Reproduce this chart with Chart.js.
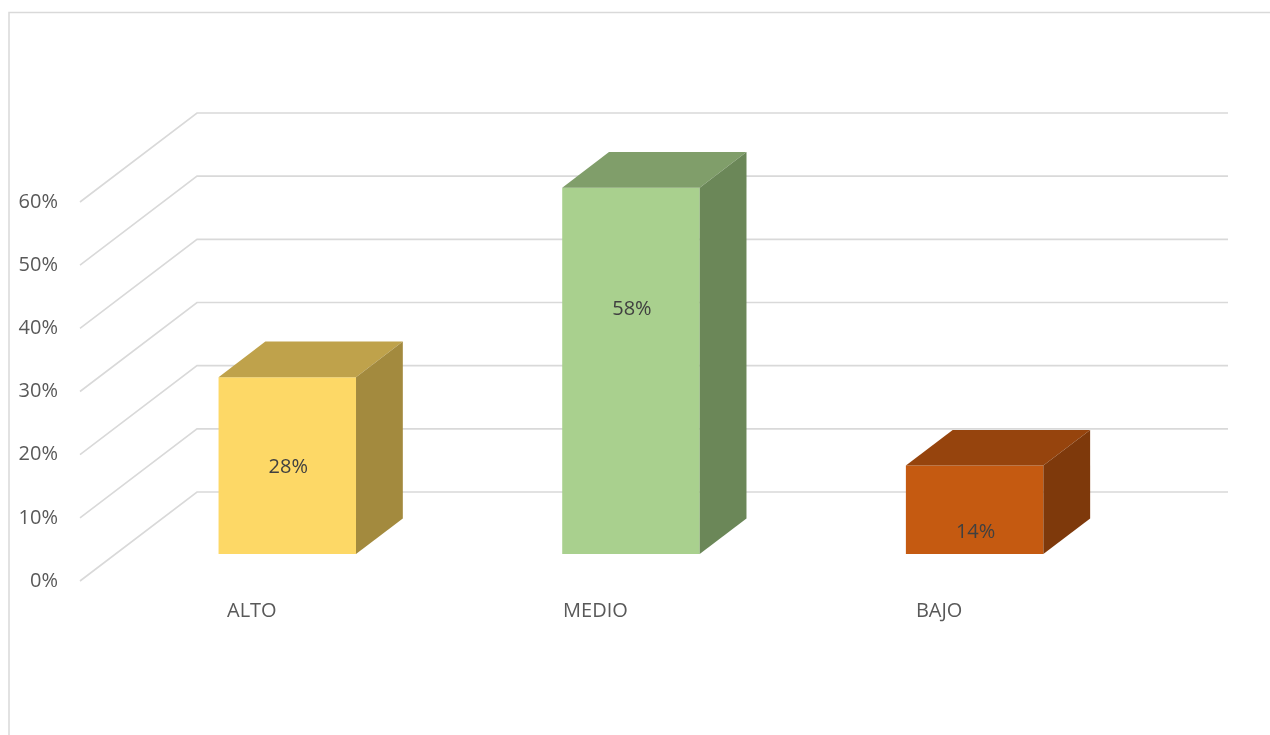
<!DOCTYPE html>
<html>
<head>
<meta charset="utf-8">
<script src="https://cdn.jsdelivr.net/npm/chart.js@4/dist/chart.umd.min.js"></script>
<style>
  html, body { margin: 0; padding: 0; background: #ffffff; }
  #wrap { width: 1270px; height: 735px; position: relative; }
</style>
</head>
<body>
<div id="wrap"><canvas id="c" width="1270" height="735"></canvas></div>
<script>
// ---- data ----
const categories = ['ALTO', 'MEDIO', 'BAJO'];
const values = [0.28, 0.58, 0.14];
const dataLabels = ['28%', '58%', '14%'];
const tickLabels = ['0%', '10%', '20%', '30%', '40%', '50%', '60%'];

// ---- styles ----
const frontColors = ['#FDD866', '#A9D08E', '#C55A11'];
const topColors   = ['#BFA24B', '#809E6A', '#96440D'];
const sideColors  = ['#A38A3E', '#6B8758', '#7E390B'];
const labelShift  = [2, -62, 22];   // vertical nudge of value labels (px)
const FONT = "'Open Sans', 'Liberation Sans', sans-serif";

// 3D projection (oblique)
const DEPTH_X = 117, DEPTH_Y = 89;
const BAR_FRONT = 0.303, BAR_DEPTH = 0.4;

const plugin3d = {
  id: 'plugin3d',
  beforeDraw(chart) {
    const ctx = chart.ctx;
    ctx.save();
    ctx.strokeStyle = '#d9d9d9';
    ctx.lineWidth = 1.5;
    ctx.beginPath();
    ctx.moveTo(9, 735);
    ctx.lineTo(9, 12.5);
    ctx.lineTo(1270, 12.5);
    ctx.stroke();
    ctx.restore();
  },
  beforeDatasetsDraw(chart) {
    const ctx = chart.ctx;
    const ys = chart.scales.y, area = chart.chartArea;
    ctx.save();
    ctx.strokeStyle = '#d9d9d9';
    ctx.lineWidth = 1.6;
    ys.ticks.forEach(t => {
      const y = ys.getPixelForValue(t.value);
      ctx.beginPath();
      ctx.moveTo(area.left, y);
      ctx.lineTo(area.left + DEPTH_X, y - DEPTH_Y);
      ctx.lineTo(area.right + DEPTH_X, y - DEPTH_Y);
      ctx.stroke();
    });
    ctx.restore();
  },
  beforeDatasetDraw(chart) {
    chart.ctx.save();
    chart.ctx.translate(DEPTH_X * BAR_FRONT, -DEPTH_Y * BAR_FRONT);
  },
  afterDatasetDraw(chart, args) {
    const ctx = chart.ctx;
    ctx.restore();
    const meta = chart.getDatasetMeta(args.index);
    const fx = DEPTH_X * BAR_FRONT, fy = DEPTH_Y * BAR_FRONT;
    const dx = DEPTH_X * BAR_DEPTH, dy = DEPTH_Y * BAR_DEPTH;
    meta.data.forEach((bar, i) => {
      const p = bar.getProps(['x', 'y', 'base', 'width'], true);
      const l = p.x - p.width / 2 + fx, r = p.x + p.width / 2 + fx;
      const t = p.y - fy, b = p.base - fy;
      // top face
      ctx.fillStyle = topColors[i];
      ctx.beginPath();
      ctx.moveTo(l, t); ctx.lineTo(l + dx, t - dy);
      ctx.lineTo(r + dx, t - dy); ctx.lineTo(r, t);
      ctx.closePath(); ctx.fill();
      // side face
      ctx.fillStyle = sideColors[i];
      ctx.beginPath();
      ctx.moveTo(r, t); ctx.lineTo(r + dx, t - dy);
      ctx.lineTo(r + dx, b - dy); ctx.lineTo(r, b);
      ctx.closePath(); ctx.fill();
      // value label
      ctx.fillStyle = '#404040';
      ctx.font = '20px ' + FONT;
      ctx.textAlign = 'center';
      ctx.textBaseline = 'middle';
      ctx.fillText(dataLabels[i], (l + r) / 2 + 1, (t + b) / 2 + labelShift[i]);
    });
  }
};

new Chart(document.getElementById('c'), {
  type: 'bar',
  data: {
    labels: categories,
    datasets: [{
      data: values,
      backgroundColor: frontColors,
      borderWidth: 0,
      barPercentage: 0.4,
      categoryPercentage: 1.0
    }]
  },
  options: {
    responsive: false,
    animation: false,
    events: [],
    layout: { padding: { left: 8, top: 202, right: 159, bottom: 0 } },
    plugins: { legend: { display: false }, tooltip: { enabled: false } },
    scales: {
      x: {
        grid: { display: false, drawTicks: false },
        border: { display: false },
        ticks: { color: '#595959', font: { family: FONT, size: 20 }, padding: 18, maxRotation: 0 },
        afterFit(s) { s.height = 154; }
      },
      y: {
        min: 0, max: 0.6,
        grid: { display: false, drawTicks: false },
        border: { display: false },
        ticks: {
          stepSize: 0.1,
          color: '#595959',
          font: { family: FONT, size: 20 },
          padding: 22,
          callback: (v, i) => tickLabels[i]
        },
        afterFit(s) { s.width = 72; }
      }
    }
  },
  plugins: [plugin3d]
});
</script>
</body>
</html>
